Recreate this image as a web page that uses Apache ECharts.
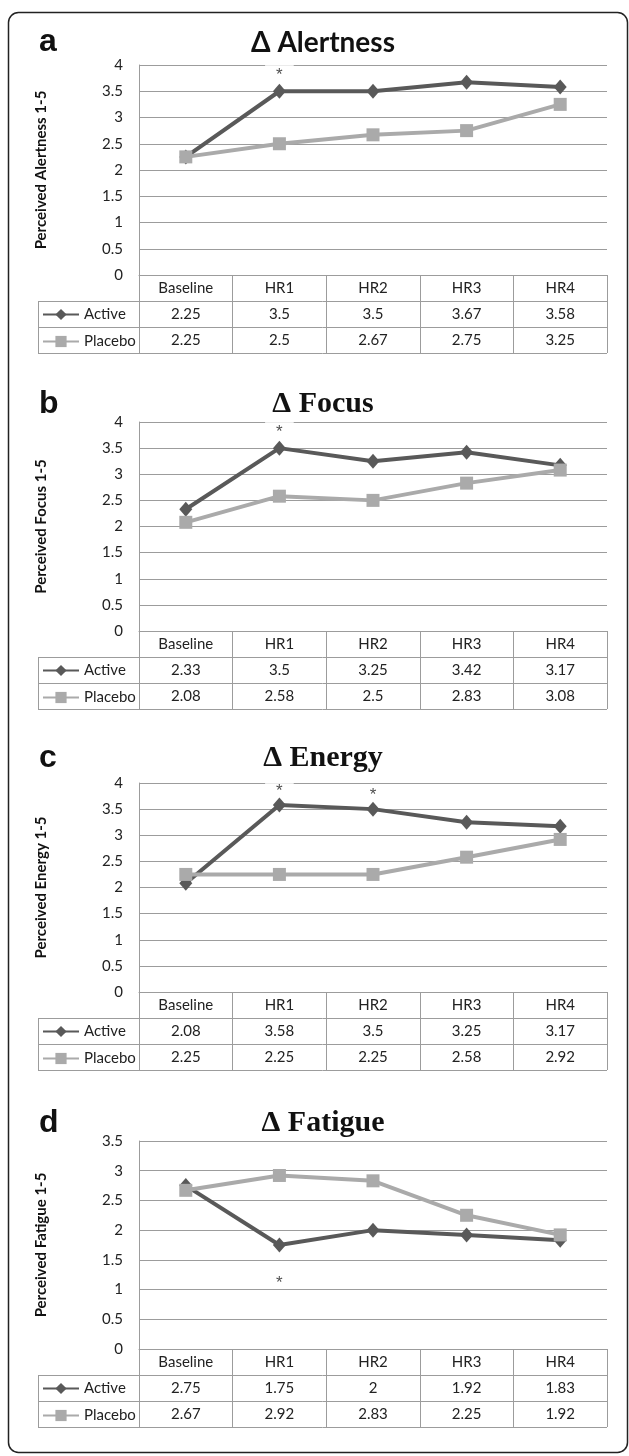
<!DOCTYPE html>
<html>
<head>
<meta charset="utf-8">
<script src="https://cdn.jsdelivr.net/npm/echarts@6/dist/echarts.min.js"></script>
<style>
html,body{margin:0;padding:0;background:#fff;}
#chart{width:629px;height:1456px;}
</style>
</head>
<body>
<div id="chart"></div>
<script>
// ---------- data ----------
const categories = ['Baseline', 'HR1', 'HR2', 'HR3', 'HR4'];
const seriesNames = ['Active', 'Placebo'];

const alertnessActive  = [2.25, 3.5, 3.5, 3.67, 3.58];
const alertnessPlacebo = [2.25, 2.5, 2.67, 2.75, 3.25];
const focusActive      = [2.33, 3.5, 3.25, 3.42, 3.17];
const focusPlacebo     = [2.08, 2.58, 2.5, 2.83, 3.08];
const energyActive     = [2.08, 3.58, 3.5, 3.25, 3.17];
const energyPlacebo    = [2.25, 2.25, 2.25, 2.58, 2.92];
const fatigueActive    = [2.75, 1.75, 2, 1.92, 1.83];
const fatiguePlacebo   = [2.67, 2.92, 2.83, 2.25, 1.92];

// significance markers: [category, y value]
const alertnessStars = [['HR1', 3.8]];
const focusStars     = [['HR1', 3.8]];
const energyStars    = [['HR1', 3.84], ['HR2', 3.76]];
const fatigueStars   = [['HR1', 1.1]];

const panelLetters = ['a', 'b', 'c', 'd'];
const panelTitles  = ['Δ Alertness', 'Δ Focus', 'Δ Energy', 'Δ Fatigue'];
const yAxisNames   = ['Perceived Alertness 1-5', 'Perceived Focus 1-5', 'Perceived Energy 1-5', 'Perceived Fatigue 1-5'];
const yMaxes       = [4, 4, 4, 3.5];
const yInterval    = 0.5;

// ---------- layout ----------
const panels = [
  {act: alertnessActive, plc: alertnessPlacebo, stars: alertnessStars, starBg: true},
  {act: focusActive,     plc: focusPlacebo,     stars: focusStars,     starBg: true},
  {act: energyActive,    plc: energyPlacebo,    stars: energyStars,    starBg: true},
  {act: fatigueActive,   plc: fatiguePlacebo,   stars: fatigueStars,   starBg: false}
];
const W = 629;
const PLOT_L = 139, PLOT_R = 607, TABLE_L = 38, ROW = 26;
const gridTops = [65, 422, 783, 1141];
const gridHeights = [210, 209, 209, 208];
const titleBaselines = [47, 409, 763, 1128];
const GRAY = '#9c9c9c';
const DARK = '#595959';
const LIGHT = '#aaaaaa';
const FONT = 'Lato, "Open Sans", sans-serif';

const chart = echarts.init(document.getElementById('chart'), null, {renderer: 'canvas'});

const grid = [], xAxis = [], yAxis = [], series = [], legend = [], title = [], graphic = [];

panels.forEach((p, k) => {
  const top = gridTops[k], h = gridHeights[k], zero = top + h;
  grid.push({left: PLOT_L, right: W - PLOT_R, top: top, height: h, containLabel: false});
  xAxis.push({
    type: 'category', gridIndex: k, data: categories, boundaryGap: true,
    axisLine: {show: true, lineStyle: {color: GRAY, width: 1}},
    axisTick: {show: true, interval: 0, length: ROW * 3, lineStyle: {color: GRAY, width: 1}},
    splitLine: {show: false},
    axisLabel: {
      interval: 0, margin: 0,
      formatter: (v, i) => `{c|${v}}\n{c|${p.act[i]}}\n{c|${p.plc[i]}}`,
      rich: {c: {fontSize: 15, lineHeight: ROW, color: '#222', fontFamily: FONT, align: 'center'}}
    }
  });
  yAxis.push({
    type: 'value', gridIndex: k, min: 0, max: yMaxes[k], interval: yInterval,
    axisLine: {show: true, lineStyle: {color: GRAY, width: 1}},
    axisTick: {show: false},
    splitLine: {show: true, lineStyle: {color: GRAY, width: 1}},
    axisLabel: {fontSize: 15, color: '#222', fontFamily: FONT, margin: 16},
    name: yAxisNames[k], nameLocation: 'middle', nameRotate: 90, nameGap: 90,
    nameTextStyle: {fontSize: 15, fontWeight: 'bold', color: '#111', fontFamily: FONT}
  });
  series.push({
    name: 'Active', type: 'line', xAxisIndex: k, yAxisIndex: k, data: p.act, z: 3,
    symbol: 'diamond', symbolSize: [13, 15], showSymbol: true,
    lineStyle: {color: DARK, width: 4}, itemStyle: {color: DARK}, animation: false
  });
  series.push({
    name: 'Placebo', type: 'line', xAxisIndex: k, yAxisIndex: k, data: p.plc, z: 4,
    symbol: 'rect', symbolSize: 13, showSymbol: true,
    lineStyle: {color: LIGHT, width: 4}, itemStyle: {color: LIGHT}, animation: false
  });
  series.push({
    type: 'scatter', xAxisIndex: k, yAxisIndex: k, data: p.stars, z: 1,
    symbolSize: 0, silent: true, animation: false,
    label: {
      show: true, position: 'inside', formatter: '*', fontSize: 17, color: '#222',
      fontFamily: '"Liberation Sans", Arial, sans-serif',
      backgroundColor: p.starBg ? '#fff' : 'transparent', padding: [6, 11, 0, 11]
    }
  });
  legend.push({
    data: seriesNames, orient: 'vertical', left: TABLE_L + 4, top: zero + ROW + 6,
    itemWidth: 36, itemHeight: 14, itemGap: 12, padding: 0, selectedMode: false,
    textStyle: {fontSize: 15, lineHeight: 14, color: '#222', fontFamily: FONT}
  });
  // panel letter and title
  title.push({
    text: panelLetters[k], left: 34, top: titleBaselines[k] - 26,
    textStyle: {fontSize: 32, fontWeight: 'bold', color: '#111', fontFamily: '"Liberation Sans", Arial, sans-serif', lineHeight: 32}
  });
  title.push({
    text: panelTitles[k], left: 318, textAlign: 'center',
    top: titleBaselines[k] - (k === 0 ? 24 : 25),
    textStyle: k === 0
      ? {fontSize: 28, fontWeight: 'bold', color: '#111', fontFamily: FONT, lineHeight: 30}
      : {fontSize: 30, fontWeight: 'bold', color: '#111', fontFamily: '"Liberation Serif", "Times New Roman", serif', lineHeight: 30}
  });
  // table borders
  [1, 2, 3].forEach(r => {
    graphic.push({type: 'line', silent: true, z: 5,
      shape: {x1: TABLE_L, y1: zero + ROW * r + 0.5, x2: PLOT_R, y2: zero + ROW * r + 0.5},
      style: {stroke: GRAY, lineWidth: 1}});
  });
  graphic.push({type: 'line', silent: true, z: 5,
    shape: {x1: TABLE_L + 0.5, y1: zero + ROW, x2: TABLE_L + 0.5, y2: zero + ROW * 3},
    style: {stroke: GRAY, lineWidth: 1}});
});

// outer frame
graphic.push({type: 'rect', silent: true, z: 0,
  shape: {x: 8.5, y: 12.5, width: 619, height: 1440, r: 10},
  style: {fill: 'none', stroke: '#222', lineWidth: 1.5}});

chart.setOption({
  backgroundColor: '#fff',
  animation: false,
  title, grid, xAxis, yAxis, series, legend, graphic
});
</script>
</body>
</html>
